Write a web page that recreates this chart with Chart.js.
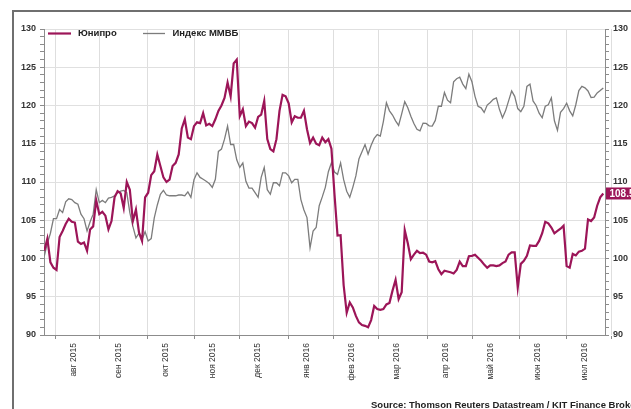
<!DOCTYPE html>
<html>
<head>
<meta charset="utf-8">
<script src="https://cdn.jsdelivr.net/npm/chart.js@4/dist/chart.umd.min.js"></script>
<style>
  html, body { margin: 0; padding: 0; background: #fff; }
  canvas { display: block; }
</style>
</head>
<body>
<canvas id="chart" width="631" height="409"></canvas>
<script>
// подписи месяцев по оси X
const monthLabels = ['авг 2015', 'сен 2015', 'окт 2015', 'ноя 2015', 'дек 2015', 'янв 2016',
                     'фев 2016', 'мар 2016', 'апр 2016', 'май 2016', 'июн 2016', 'июл 2016'];

// ряды сняты с картинки равномерно, с 27.07.2015 по 26.07.2016
// ось X - торговые дни (пн-пт), отсчёт от 03.08.2015
const sampleFrom = -5;
const sampleTo = 256;

// Юнипро
const unipro = [
  101.0, 102.6, 99.5, 98.8, 98.5, 102.8, 103.6, 104.5, 105.2, 104.8, 104.7, 102.2, 101.9, 102.1, 101.0, 103.8, 104.2, 107.6, 105.8,
  106.1, 105.6, 103.8, 104.9, 108.0, 108.8, 108.5, 106.6, 110.0, 109.0, 104.9, 106.4, 103.4, 102.3, 108.0, 108.6, 110.9, 111.4, 113.6, 112.1,
  110.6, 110.0, 110.3, 112.1, 112.5, 113.6, 117.0, 118.2, 115.8, 115.6, 117.3, 117.8, 117.7, 119.0, 117.4, 117.6, 117.3, 118.2, 119.3, 120.0,
  121.0, 123.0, 121.2, 125.5, 126.0, 118.6, 119.5, 117.3, 117.9, 117.7, 117.1, 118.5, 118.8, 120.6, 115.6, 114.3, 114.0, 115.6, 119.3, 121.4,
  121.2, 120.3, 117.8, 118.6, 118.4, 118.4, 119.3, 116.9, 115.1, 115.8, 115.0, 114.8, 115.8, 115.2, 115.6, 114.35, 108.4, 103.0, 103.05, 96.5,
  92.9, 94.25, 93.6, 92.5, 91.65, 91.3, 91.2, 91.0, 91.95, 93.8, 93.4, 93.3, 93.4, 94.0, 94.2, 95.8, 97.2, 94.7, 95.6, 103.7,
  102.0, 99.9, 100.5, 101.0, 100.7, 100.75, 100.5, 99.6, 99.5, 99.65, 98.6, 97.95, 98.4, 98.3, 98.2, 98.05, 98.5, 99.6, 99.0, 99.0,
  100.3, 100.35, 100.5, 100.1, 99.7, 99.2, 98.8, 99.1, 99.1, 99.0, 99.1, 99.4, 99.6, 100.5, 100.8, 100.8, 96.2, 99.3, 99.7, 100.35,
  101.7, 101.65, 101.65, 102.3, 103.3, 104.8, 104.6, 104.05, 103.3, 103.6, 103.9, 104.3, 99.0, 98.8, 100.6, 100.4, 100.9, 101.0, 101.3, 105.1,
  104.9, 105.35, 106.9, 108.0, 108.5
];

// Индекс ММВБ
const micex = [
  100.3, 102.0, 103.3, 105.2, 105.2, 106.4, 106.0, 107.4, 107.8, 107.7, 107.3, 107.1, 105.8, 105.2, 103.6, 104.8, 105.8, 109.0, 107.3,
  107.6, 107.3, 107.9, 108.0, 108.2, 108.6, 108.8, 108.9, 108.6, 106.0, 104.2, 102.7, 103.3, 102.5, 103.5, 102.3, 102.6, 105.3, 107.0, 108.4,
  108.9, 108.3, 108.2, 108.2, 108.2, 108.3, 108.3, 108.2, 108.7, 108.0, 110.3, 111.2, 110.6, 110.35, 110.1, 109.8, 109.3, 110.35, 114.0, 114.3,
  115.6, 117.3, 114.9, 114.9, 112.9, 111.9, 112.5, 110.1, 109.2, 109.2, 108.6, 108.0, 110.6, 111.9, 109.0, 108.4, 109.9, 109.9, 109.5, 111.2,
  111.2, 110.8, 109.9, 110.35, 110.35, 107.7, 106.35, 105.35, 101.4, 103.6, 104.05, 106.9, 108.05, 109.3, 111.35, 112.5, 111.3, 111.0, 112.5, 110.3,
  108.8, 108.0, 109.3, 110.8, 113.0, 113.95, 114.9, 113.65, 114.8, 115.7, 116.2, 116.0, 117.9, 120.35, 119.3, 118.75, 118.0, 117.4, 118.9, 120.5,
  119.7, 118.6, 117.65, 116.9, 116.7, 117.7, 117.65, 117.35, 117.3, 118.05, 119.9, 119.9, 121.7, 120.7, 120.35, 123.1, 123.5, 123.7, 122.8, 122.2,
  124.1, 123.1, 121.2, 119.9, 119.7, 119.1, 120.05, 120.4, 120.8, 121.0, 119.5, 118.4, 119.3, 120.6, 121.9, 121.2, 119.6, 119.2, 119.9, 122.5,
  122.8, 120.6, 120.0, 119.0, 118.4, 119.9, 120.1, 121.0, 118.0, 116.75, 119.1, 119.6, 120.3, 119.3, 118.65, 120.1, 121.95, 122.5, 122.3, 121.9,
  121.05, 121.1, 121.65, 121.95, 122.3
];

const FONT = "'Liberation Sans', Arial, sans-serif";
const RED = '#9c1558';
const GREY = '#7c7c7c';
const AXIS = '#8c8c8c';

// номер торгового дня (пн-пт) для первого рабочего дня на дату или после неё
const tradingStart = Date.UTC(2015, 7, 3);
function tradingIndex(y, m, d) {
    let t = Date.UTC(y, m, d);
    while ([0, 6].includes(new Date(t).getUTCDay())) t += 864e5;
    let n = 0;
    for (let s = tradingStart; s < t; s += 864e5) {
        const wd = new Date(s).getUTCDay();
        if (wd !== 0 && wd !== 6) n++;
    }
    return n;
}

// границы месяцев (август 2015 - август 2016)
const monthStarts = [];
for (let k = 0; k <= 12; k++) monthStarts.push(tradingIndex(2015, 7 + k, 1));
const labelPos = monthLabels.map((m, k) => monthStarts[k] + 8.5);

const axisFrom = sampleFrom - 0.14;
const axisTo = sampleTo + 0.8;

const step = (sampleTo - sampleFrom) / (unipro.length - 1);
const toPoints = arr => arr.map((v, i) => ({ x: sampleFrom + i * step, y: v }));

// рамка, легенда, источник
const decorPlugin = {
    id: 'decor',
    beforeDraw(chart) {
        const ctx = chart.ctx;
        ctx.save();
        ctx.fillStyle = '#fff';
        ctx.fillRect(0, 0, chart.width, chart.height);
        ctx.strokeStyle = '#6f6f6f';
        ctx.lineWidth = 2;
        ctx.beginPath();
        ctx.moveTo(13, chart.height);
        ctx.lineTo(13, 11);
        ctx.lineTo(chart.width, 11);
        ctx.stroke();
        ctx.restore();
    },
    afterDraw(chart) {
        const ctx = chart.ctx;
        ctx.save();
        ctx.textBaseline = 'middle';
        ctx.textAlign = 'left';
        ctx.fillStyle = '#222';
        ctx.font = 'bold 9.5px ' + FONT;

        // легенда
        ctx.strokeStyle = RED;
        ctx.lineWidth = 2.2;
        ctx.beginPath(); ctx.moveTo(48, 33.5); ctx.lineTo(71, 33.5); ctx.stroke();
        ctx.fillText('Юнипро', 78, 33.5);
        ctx.strokeStyle = GREY;
        ctx.lineWidth = 1.3;
        ctx.beginPath(); ctx.moveTo(143, 33.5); ctx.lineTo(165, 33.5); ctx.stroke();
        ctx.fillText('Индекс ММВБ', 172.5, 33.5);

        // источник
        ctx.font = 'bold 9.5px ' + FONT;
        ctx.fillText('Source: Thomson Reuters Datastream / KIT Finance Broker', 371, 405);

        // последнее значение Юнипро справа
        const last = unipro[unipro.length - 1];
        const y = chart.scales.y.getPixelForValue(last);
        ctx.fillStyle = RED;
        ctx.fillRect(606, y - 6, 26, 12);
        ctx.fillStyle = '#fff';
        ctx.font = 'bold 10px ' + FONT;
        ctx.fillText(last.toFixed(1), 609.5, y + 0.5);
        ctx.restore();
    }
};

function yAxis(position, width, onArea) {
    return {
        position: position,
        min: 90,
        max: 130,
        ticks: {
            stepSize: 1,
            autoSkip: false,
            padding: 4,
            color: '#333',
            font: { family: FONT, size: 9, weight: 'bold' },
            callback: v => v % 5 === 0 ? v : ''
        },
        grid: {
            drawOnChartArea: onArea,
            color: c => c.tick && c.tick.value % 5 === 0 ? '#e0e0e0' : 'rgba(0,0,0,0)',
            tickColor: AXIS,
            tickLength: 4
        },
        border: { color: AXIS },
        afterFit: s => { s.width = width; }
    };
}

new Chart(document.getElementById('chart'), {
    type: 'line',
    data: {
        datasets: [
            { label: 'Юнипро', data: toPoints(unipro), borderColor: RED, borderWidth: 2.2,
              pointRadius: 0, xAxisID: 'x', yAxisID: 'y' },
            { label: 'Индекс ММВБ', data: toPoints(micex), borderColor: GREY, borderWidth: 1.3,
              pointRadius: 0, xAxisID: 'x', yAxisID: 'y' }
        ]
    },
    options: {
        responsive: false,
        animation: false,
        devicePixelRatio: 1,
        layout: { padding: { top: 29, left: 0, right: 0, bottom: 0 } },
        plugins: { legend: { display: false }, tooltip: { enabled: false } },
        scales: {
            x: {
                type: 'linear',
                position: 'bottom',
                weight: 0,
                min: axisFrom,
                max: axisTo,
                afterBuildTicks: s => { s.ticks = monthStarts.map(v => ({ value: v })); },
                ticks: { display: false },
                grid: { color: '#dedede', tickColor: AXIS, tickLength: 4 },
                border: { color: AXIS },
                afterFit: s => { s.height = 4; }
            },
            months: {
                type: 'linear',
                position: 'bottom',
                weight: 1,
                min: axisFrom,
                max: axisTo,
                afterBuildTicks: s => { s.ticks = labelPos.map(v => ({ value: v })); },
                ticks: {
                    autoSkip: false,
                    minRotation: 90,
                    maxRotation: 90,
                    padding: 4,
                    color: '#333',
                    font: { family: FONT, size: 8.5 },
                    callback: (v, i) => monthLabels[i]
                },
                grid: { display: false, drawTicks: false },
                border: { display: false },
                afterFit: s => { s.height = 70; }
            },
            y: yAxis('left', 44, true),
            y2: yAxis('right', 26, false)
        }
    },
    plugins: [decorPlugin]
});
</script>
</body>
</html>
